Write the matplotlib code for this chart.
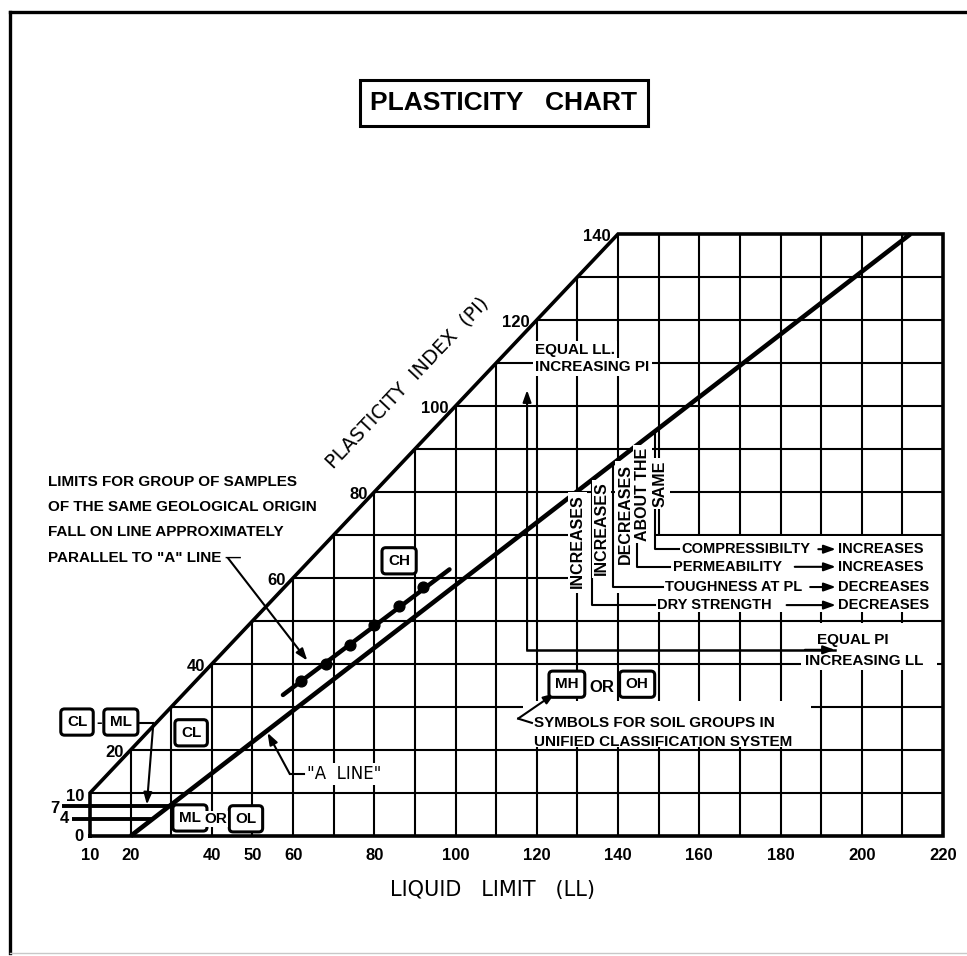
import numpy as np
import matplotlib.pyplot as plt
from matplotlib.lines import Line2D
from matplotlib.patches import Rectangle

plt.rcParams['font.family'] = ['Liberation Sans', 'DejaVu Sans']

# Chart frame: liquid limit (LL) across, plasticity index (PI) up
ll_left, ll_right, pi_top = 10, 220, 140
ll_gridlines = list(range(20, 220, 10))
pi_gridlines = list(range(10, 140, 10))
ll_ticks = [10, 20, 40, 50, 60, 80, 100, 120, 140, 160, 180, 200, 220]
pi_ticks = [20, 40, 60, 80, 100, 120, 140]

# "A" line
a_line_ll = [20, 212]
a_line_pi = [0, 140]

# CL-ML band (PI 4 to 7)
band_pi = [7, 4]

# Samples of one geological origin and their trend line
sample_ll = [62, 68, 74, 80, 86, 92]
sample_pi = [36, 40, 44.5, 49, 53.5, 58]
trend_ll = [57.5, 98.5]
trend_pi = [32.8, 62.0]

# Soil properties: change at equal LL / increasing PI, and at equal PI / increasing LL
prop_names = ['DRY STRENGTH', 'TOUGHNESS AT PL', 'PERMEABILITY', 'COMPRESSIBILTY']
prop_up_pi = ['INCREASES', 'INCREASES', 'DECREASES', 'ABOUT THE']
prop_up_ll = ['DECREASES', 'DECREASES', 'INCREASES', 'INCREASES']

W, H = 967, 956
fig = plt.figure(figsize=(W / 100, H / 100), dpi=100)
ax = fig.add_axes([0, 0, 1, 1])
# pixel columns of LL 10 / 220 and rows of PI 0 / 140
px_ll10, px_ll220 = 90, 943
py_pi0, py_pi140 = 836, 234
sx = (px_ll220 - px_ll10) / (ll_right - ll_left)
sy = (py_pi0 - py_pi140) / pi_top
ax.set_xlim(ll_left - px_ll10 / sx, ll_left + (W - px_ll10) / sx)
ax.set_ylim((py_pi0 - H) / sy, py_pi0 / sy)
ax.axis('off')
diag_angle = np.degrees(np.arctan2(sy, sx))

bold = dict(fontsize=11, fontweight='bold', color='black')
table = dict(fontsize=10.5, fontweight='bold', color='black')
vert = dict(fontsize=11.5, fontweight='bold', color='black')
ticks = dict(fontsize=12, fontweight='bold', color='black')
white = dict(facecolor='white', edgecolor='none', pad=1.5)

# page frame
fig.add_artist(Line2D([10 / W, 1], [1 - 12 / H, 1 - 12 / H], color='black', lw=2.4))
fig.add_artist(Line2D([10 / W, 10 / W], [1 - 12 / H, 1 - 953 / H], color='black', lw=2.4))
fig.add_artist(Line2D([10 / W, 1], [1 - 953 / H, 1 - 953 / H], color='#c8c8c8', lw=1))

# grid
grid_kw = dict(color='black', lw=1.5, solid_capstyle='butt', zorder=1)
for ll in ll_gridlines:
    ax.plot([ll, ll], [0, min(ll, pi_top)], **grid_kw)
for pi in pi_gridlines:
    ax.plot([max(pi, ll_left), ll_right], [pi, pi], **grid_kw)

# outline: PI = LL on the left, capped at PI 140
ax.plot([ll_left, ll_left, pi_top, ll_right, ll_right, ll_left],
        [0, ll_left, pi_top, pi_top, 0, 0],
        color='black', lw=2.6, solid_joinstyle='miter', zorder=3)

# A line
ax.plot(a_line_ll, a_line_pi, color='black', lw=3.3, solid_capstyle='butt', zorder=3)

# CL-ML band edges, run out to the tick side
for pi, start in zip(band_pi, [3.0, 5.6]):
    end = np.interp(pi, a_line_pi, a_line_ll)
    ax.plot([start, end], [pi, pi], color='black', lw=2.8, solid_capstyle='butt', zorder=3)

# white areas behind the notes
for x0, y0, w, h in [(128, 56.5, 21, 14.2), (149, 52, 71, 17.8),
                     (185, 38.6, 33.5, 11.0), (116.5, 20.7, 71, 10.8)]:
    ax.add_patch(Rectangle((x0, y0), w, h, facecolor='white', edgecolor='none', zorder=2))

# ticks
for ll in ll_ticks:
    ax.text(ll, -4.5, str(ll), ha='center', va='center', **ticks)
for pi in pi_ticks:
    ax.annotate(str(pi), (pi, pi), xytext=(-5, -2), textcoords='offset points',
                ha='right', va='center', **ticks)
for s, x, y in [('10', 6.4, 9.1), ('7', 1.4, 6.5), ('4', 3.8, 4.0), ('0', 7.3, -0.2)]:
    ax.text(x, y, s, ha='center', va='center', **ticks)

# titles
fig.text(504 / W, 1 - 103 / H, 'PLASTICITY   CHART', ha='center', va='center',
         fontsize=19, fontweight='bold',
         bbox=dict(boxstyle='square,pad=0.4', facecolor='white', edgecolor='black', lw=2.2))
ax.text(109.2, -12.6, 'LIQUID   LIMIT   (LL)', ha='center', va='center',
        fontsize=15, family='DejaVu Sans')
ax.text(88.0, 105.5, 'PLASTICITY  INDEX  (PI)', ha='center', va='center',
        rotation=diag_angle, rotation_mode='anchor', fontsize=14, family='DejaVu Sans')

arrow = dict(arrowstyle='-|>,head_length=0.7,head_width=0.25', color='black', lw=1.5,
             shrinkA=0, shrinkB=0)


def leader(xs, ys):
    ax.plot(xs[:-1], ys[:-1], color='black', lw=1.5, zorder=5)
    ax.annotate('', xy=(xs[-1], ys[-1]), xytext=(xs[-2], ys[-2]), arrowprops=arrow, zorder=5)


# samples of one origin
limits_lines = ['LIMITS FOR GROUP OF SAMPLES', 'OF THE SAME GEOLOGICAL ORIGIN',
                'FALL ON LINE APPROXIMATELY', 'PARALLEL TO "A" LINE \u2014']
for i, s in enumerate(limits_lines):
    ax.text(-0.3, 82.3 - 5.85 * i, s, ha='left', va='center', **bold)
leader([44.0, 63.5], [64.6, 40.8])
ax.plot(trend_ll, trend_pi, color='black', lw=3.2, solid_capstyle='round', zorder=4)
ax.scatter(sample_ll, sample_pi, s=60, color='black', zorder=5)

# group symbols
box = dict(boxstyle='round,pad=0.4,rounding_size=0.25', facecolor='white',
           edgecolor='black', lw=2.2)
for s, x, y in [('CH', 86.1, 64.0), ('CL', 34.9, 24.0), ('CL', 6.8, 26.5), ('ML', 17.6, 26.5),
                ('ML', 34.6, 4.2), ('OL', 48.4, 4.0), ('MH', 127.4, 35.3), ('OH', 144.7, 35.3)]:
    ax.text(x, y, s, ha='center', va='center', bbox=box, zorder=6, **bold)
ax.text(12.3, 26.3, '-', ha='center', va='center', zorder=7, **ticks)
ax.text(41.0, 3.9, 'OR', ha='center', va='center',
        bbox=dict(facecolor='white', edgecolor='none', pad=0.5), zorder=6, **bold)
ax.text(136.0, 34.6, 'OR', ha='center', va='center', **ticks)
leader([21.8, 25.6, 24.0], [26.3, 26.3, 7.3])

# A line label
ax.text(63.4, 14.4, '"A  LINE"', ha='left', va='center', fontsize=12,
        family='DejaVu Sans', bbox=white, zorder=4)
leader([62.6, 59.2, 53.7], [14.4, 14.4, 24.0])

# soil group note
ax.text(119.3, 26.3, 'SYMBOLS FOR SOIL GROUPS IN', ha='left', va='center', **bold)
ax.text(119.3, 21.9, 'UNIFIED CLASSIFICATION SYSTEM', ha='left', va='center', **bold)
leader([118.8, 115.4, 124.5], [26.3, 27.3, 33.2])

# equal LL / equal PI directions
ax.text(119.6, 113.0, 'EQUAL LL.', ha='left', va='center', bbox=white, zorder=4, **bold)
ax.text(119.6, 109.1, 'INCREASING PI', ha='left', va='center', bbox=white, zorder=4, **bold)
ax.text(189.0, 45.6, 'EQUAL PI', ha='left', va='center', **bold)
ax.text(186.0, 40.6, 'INCREASING LL', ha='left', va='center', **bold)
ax.plot([193.4, 117.6], [43.3, 43.3], color='black', lw=1.8, zorder=5)
ax.annotate('', xy=(117.6, 103.7), xytext=(117.6, 43.3), arrowprops=arrow, zorder=5)
ax.annotate('', xy=(193.4, 43.3), xytext=(186, 43.3), arrowprops=arrow, zorder=5)

# property table
col_ll = [133.6, 138.8, 144.7, 149.1]
row_pi = [53.7, 57.9, 62.6, 66.7]
name_ll = [149.6, 151.6, 153.5, 155.7]
tail_ll = [181.5, 187.3, 183.5, 189.3]
vtext_ll = [130.1, 136.0, 141.7, 146.1]
vtext_pi = [68.5, 71.5, 75.0, 79.5]
for i in range(4):
    top = np.interp(col_ll[i], a_line_ll, a_line_pi)
    ax.plot([col_ll[i], col_ll[i], name_ll[i] - 0.6], [top, row_pi[i], row_pi[i]],
            color='black', lw=1.5, zorder=5)
    ax.text(name_ll[i], row_pi[i], prop_names[i], ha='left', va='center', zorder=6, **table)
    ax.annotate('', xy=(193.6, row_pi[i]), xytext=(tail_ll[i], row_pi[i]), arrowprops=arrow, zorder=5)
    ax.text(194.2, row_pi[i], prop_up_ll[i], ha='left', va='center', zorder=6, **table)
    ax.text(vtext_ll[i], vtext_pi[i], prop_up_pi[i], ha='center', va='center', rotation=90,
            bbox=white, zorder=6, **vert)
ax.text(150.4, 82.0, 'SAME', ha='center', va='center', rotation=90, bbox=white, zorder=6, **vert)

fig.savefig('out.png', dpi=100, facecolor='white')
